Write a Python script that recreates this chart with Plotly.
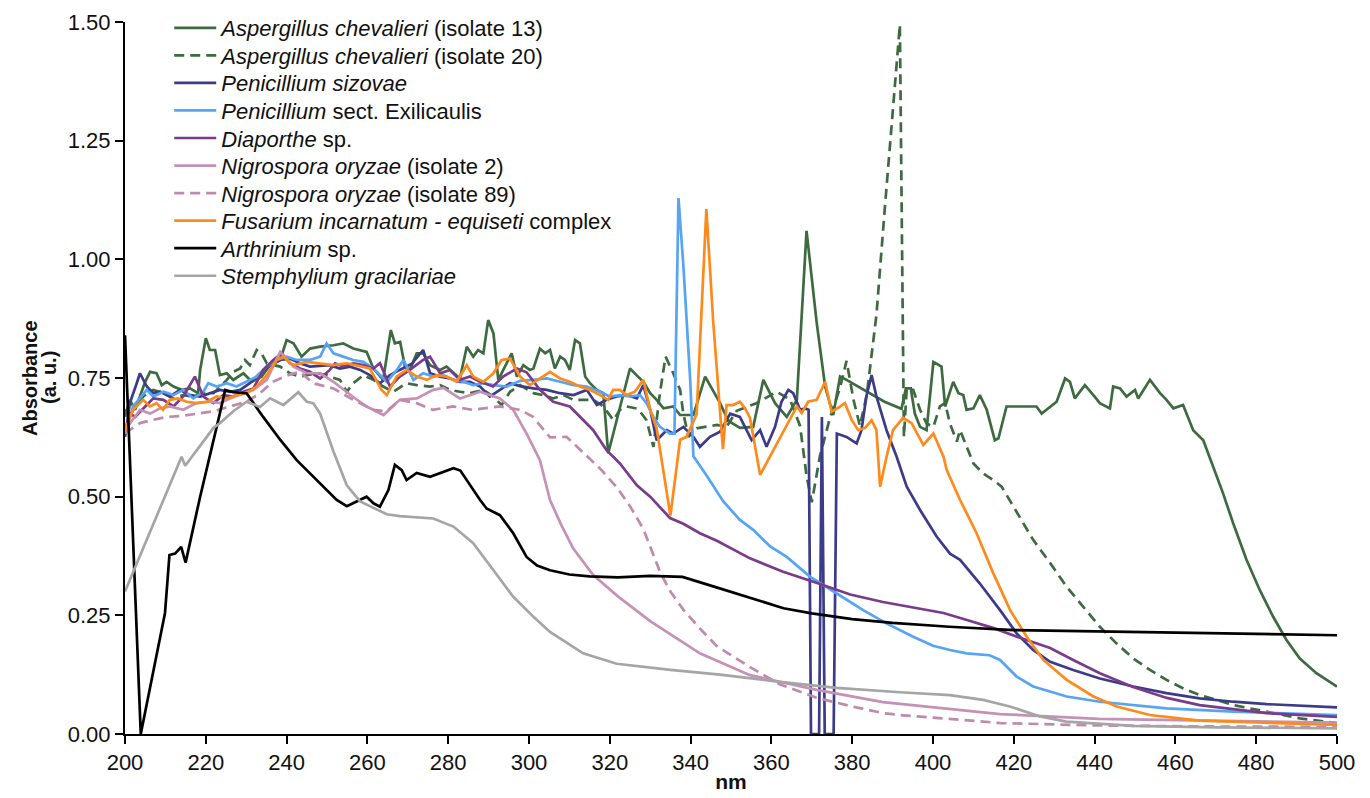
import plotly.graph_objects as go

# ---------------- data ----------------
names = [
    "<i>Aspergillus chevalieri</i> (isolate 13)",
    "<i>Aspergillus chevalieri</i> (isolate 20)",
    "<i>Penicillium sizovae</i>",
    "<i>Penicillium</i> sect. Exilicaulis",
    "<i>Diaporthe</i> sp.",
    "<i>Nigrospora oryzae</i> (isolate 2)",
    "<i>Nigrospora oryzae</i> (isolate 89)",
    "<i>Fusarium incarnatum - equiseti</i> complex",
    "<i>Arthrinium</i> sp.",
    "<i>Stemphylium gracilariae</i>",
]

ac13_x = [200, 201.2, 202.5, 203.7, 205, 206.2, 207.8, 209.1, 210.3, 212, 214, 216.1, 218.1, 218.6, 220, 221, 222.3, 223.5, 225.2, 226.8, 229.3, 231.4, 233.8, 235.9, 238.4, 240, 241.7, 243.7, 245.8, 248.3, 251.6, 254, 256.5, 259.8, 261.5, 263.9, 265.8, 266.8, 268.1, 269.3, 270.5, 272.2, 273.8, 275.5, 278, 279.6, 281.3, 282.9, 284.6, 286.2, 287.4, 288.7, 289.9, 291.2, 292.4, 294, 295.7, 297, 298.6, 300.2, 301.1, 302.7, 304, 305.2, 306.4, 307.7, 308.9, 310.1, 311.4, 312.6, 313.9, 315.1, 316.8, 318.4, 319.6, 321.7, 325, 326.6, 328.3, 330, 331.6, 333.3, 335.7, 337.4, 340.7, 343.6, 345.4, 347.3, 349.3, 352.2, 355.5, 358, 360.9, 363.8, 366.3, 368.7, 371.2, 373.3, 375.3, 377, 378.6, 383.6, 388, 392.2, 393.3, 394.5, 395.5, 396.8, 398.4, 400.1, 402.1, 403, 405, 406.3, 407.5, 408.3, 410, 411.6, 413.3, 415.3, 416.2, 418.2, 425.6, 426.9, 430.6, 432.7, 433.9, 435.1, 437.6, 439.7, 441.3, 443.8, 444.6, 446.3, 447.9, 450, 450.8, 453.7, 456.2, 457.8, 459.5, 461.9, 464.4, 466.9, 469.4, 471.8, 474.3, 477.6, 480.9, 484.2, 487.5, 490.8, 494.9, 500]
ac13_y = [0.668, 0.704, 0.683, 0.711, 0.742, 0.763, 0.76, 0.735, 0.742, 0.732, 0.725, 0.728, 0.718, 0.767, 0.834, 0.809, 0.809, 0.756, 0.76, 0.746, 0.76, 0.742, 0.753, 0.777, 0.788, 0.83, 0.823, 0.795, 0.812, 0.816, 0.819, 0.823, 0.812, 0.805, 0.77, 0.746, 0.851, 0.823, 0.826, 0.774, 0.767, 0.802, 0.802, 0.777, 0.767, 0.774, 0.76, 0.749, 0.816, 0.795, 0.809, 0.802, 0.872, 0.844, 0.746, 0.774, 0.802, 0.753, 0.777, 0.767, 0.77, 0.812, 0.802, 0.809, 0.77, 0.795, 0.788, 0.767, 0.83, 0.823, 0.753, 0.739, 0.725, 0.718, 0.591, 0.661, 0.77, 0.756, 0.742, 0.718, 0.704, 0.686, 0.69, 0.672, 0.672, 0.753, 0.725, 0.697, 0.66, 0.645, 0.647, 0.746, 0.697, 0.668, 0.704, 1.06, 0.867, 0.732, 0.672, 0.753, 0.746, 0.722, 0.70, 0.685, 0.728, 0.728, 0.675, 0.647, 0.64, 0.784, 0.774, 0.69, 0.742, 0.718, 0.714, 0.683, 0.686, 0.714, 0.683, 0.619, 0.623, 0.69, 0.69, 0.675, 0.70, 0.749, 0.742, 0.707, 0.735, 0.714, 0.697, 0.686, 0.732, 0.728, 0.711, 0.725, 0.707, 0.746, 0.718, 0.704, 0.686, 0.693, 0.64, 0.619, 0.563, 0.507, 0.444, 0.367, 0.303, 0.247, 0.198, 0.159, 0.128, 0.10]

ac20_x = [200, 202, 203.7, 205.4, 207, 209.5, 212, 214.4, 216.9, 219.4, 221.9, 223.5, 225.2, 226.8, 228.5, 229.7, 230.9, 232.6, 233.8, 235.1, 238.4, 240.8, 243.3, 245, 247.4, 249.9, 250.7, 253.2, 254.9, 256.5, 259, 261.5, 263.9, 266.4, 267.6, 269.7, 272.2, 275.5, 278, 280.4, 282.9, 285.4, 288.7, 291.2, 293.2, 295.3, 297.8, 301.1, 303.5, 306, 308.5, 311, 315.9, 318.4, 320.9, 322.5, 324.2, 327, 329.1, 330.8, 332.4, 333.8, 335.7, 337.4, 338.2, 339.5, 341.5, 344, 346.5, 348.9, 351.4, 356.3, 361.3, 364.6, 367.1, 368.7, 370, 372, 374.5, 377, 378.6, 380.3, 381.9, 383.6, 386, 388, 390.6, 391.8, 392.8, 393.5, 395.1, 396.8, 398.4, 400.1, 401.7, 403, 404.2, 405.9, 406.7, 408.3, 410, 412.4, 414.9, 417, 419.9, 423.2, 424.8, 429, 433.1, 437.2, 441.3, 445.4, 449.6, 453.7, 457.8, 462, 466.1, 470.2, 474.3, 482.6, 490.8, 500]
ac20_y = [0.64, 0.683, 0.704, 0.718, 0.725, 0.718, 0.707, 0.714, 0.711, 0.718, 0.718, 0.732, 0.746, 0.763, 0.77, 0.788, 0.777, 0.809, 0.802, 0.781, 0.774, 0.76, 0.753, 0.756, 0.76, 0.756, 0.753, 0.746, 0.721, 0.739, 0.756, 0.746, 0.732, 0.721, 0.728, 0.739, 0.735, 0.732, 0.735, 0.725, 0.721, 0.718, 0.725, 0.711, 0.693, 0.721, 0.735, 0.718, 0.714, 0.707, 0.714, 0.704, 0.704, 0.69, 0.661, 0.683, 0.69, 0.685, 0.661, 0.605, 0.718, 0.795, 0.76, 0.725, 0.675, 0.626, 0.644, 0.647, 0.651, 0.647, 0.681, 0.697, 0.721, 0.705, 0.649, 0.544, 0.488, 0.585, 0.666, 0.73, 0.786, 0.705, 0.649, 0.714, 0.883, 1.10, 1.378, 1.494, 0.626, 0.728, 0.725, 0.683, 0.654, 0.647, 0.69, 0.697, 0.654, 0.616, 0.64, 0.605, 0.57, 0.549, 0.535, 0.521, 0.479, 0.43, 0.409, 0.36, 0.31, 0.268, 0.226, 0.191, 0.159, 0.135, 0.114, 0.096, 0.082, 0.072, 0.061, 0.047, 0.033, 0.023]

psiz_x = [200, 201.2, 202.9, 203.7, 205.4, 207, 208.7, 211.1, 213.6, 216.1, 218.6, 221, 223.5, 226, 228.5, 230.9, 233.4, 235.9, 238.4, 240.8, 243.3, 245.8, 248.3, 250.7, 253.2, 255.7, 258.2, 260.6, 263.1, 265.6, 268, 271, 273.8, 275.5, 278, 280.4, 282.9, 285.4, 287.9, 290.3, 292.8, 295.3, 297.8, 301.1, 304.4, 307.7, 311, 314.3, 316.8, 319.2, 321.7, 324.2, 326.7, 328.3, 330, 331.6, 334.1, 335.7, 338.2, 340.7, 342.3, 344.8, 347.3, 349.8, 352.2, 355.1, 357.2, 358.8, 360.9, 362.5, 364.2, 365.4, 367.1, 368.3, 369.2, 369.8, 371.8, 372.5, 373.2, 375.4, 376.2, 378.6, 381.1, 382.3, 383.5, 384.8, 386, 388.5, 391, 393.5, 396.8, 400.9, 404.2, 406.7, 411.6, 416.6, 420.7, 424.8, 429, 434.7, 441.3, 449.6, 457.8, 466, 474.3, 482.6, 500]
psiz_y = [0.626, 0.697, 0.739, 0.76, 0.732, 0.718, 0.721, 0.711, 0.725, 0.714, 0.711, 0.718, 0.725, 0.721, 0.725, 0.739, 0.76, 0.777, 0.788, 0.791, 0.781, 0.774, 0.776, 0.777, 0.77, 0.774, 0.767, 0.756, 0.739, 0.756, 0.767, 0.78, 0.809, 0.76, 0.753, 0.749, 0.742, 0.742, 0.732, 0.711, 0.725, 0.739, 0.733, 0.728, 0.725, 0.718, 0.714, 0.725, 0.693, 0.704, 0.711, 0.714, 0.707, 0.735, 0.683, 0.619, 0.64, 0.633, 0.647, 0.626, 0.605, 0.626, 0.637, 0.675, 0.668, 0.619, 0.64, 0.605, 0.647, 0.70, 0.725, 0.718, 0.683, 0.686, 0.683, 0.0, 0.0, 0.668, 0.0, 0.0, 0.633, 0.626, 0.612, 0.64, 0.711, 0.756, 0.711, 0.64, 0.584, 0.521, 0.472, 0.416, 0.38, 0.367, 0.317, 0.261, 0.212, 0.177, 0.152, 0.135, 0.117, 0.10, 0.086, 0.075, 0.068, 0.063, 0.056]

pexi_x = [200, 202, 205.4, 207, 209.5, 212, 214.4, 216.9, 219.4, 220.6, 222.7, 225.2, 227.6, 230.1, 232.6, 235.1, 237.5, 240, 242.5, 245.8, 248.3, 249.9, 251.6, 254, 256.5, 259, 261.5, 264.8, 267.3, 268.9, 271.4, 273.8, 276.3, 278.8, 281.3, 283.7, 286.2, 288.7, 291.2, 294.5, 297.8, 301.1, 304.4, 307.7, 311, 314.3, 317.6, 320, 322.5, 325, 327.5, 329.1, 330.8, 332.4, 334.9, 336, 337, 338.2, 339.9, 340.7, 344, 348.1, 352.2, 355.5, 359.7, 363.8, 369.6, 376.2, 382.7, 388.5, 395.1, 400, 404.2, 408.3, 414, 416.6, 420.7, 424.8, 433.1, 441.3, 457.8, 474.3, 500]
pexi_y = [0.634, 0.69, 0.725, 0.711, 0.721, 0.714, 0.725, 0.707, 0.721, 0.739, 0.732, 0.739, 0.732, 0.742, 0.753, 0.774, 0.788, 0.795, 0.788, 0.788, 0.795, 0.823, 0.802, 0.795, 0.788, 0.784, 0.77, 0.742, 0.767, 0.788, 0.746, 0.76, 0.753, 0.756, 0.746, 0.742, 0.735, 0.739, 0.735, 0.732, 0.744, 0.746, 0.749, 0.742, 0.735, 0.732, 0.721, 0.711, 0.714, 0.711, 0.714, 0.697, 0.668, 0.647, 0.633, 0.633, 1.129, 0.988, 0.746, 0.585, 0.544, 0.49, 0.451, 0.43, 0.395, 0.373, 0.331, 0.296, 0.261, 0.233, 0.205, 0.186, 0.177, 0.17, 0.166, 0.156, 0.121, 0.10, 0.079, 0.068, 0.054, 0.047, 0.04]

diap_x = [200, 202.5, 205, 207, 209.5, 212, 214.4, 217.3, 219.4, 221.9, 224.3, 226.8, 229.3, 231.8, 234.2, 236.7, 238.8, 240.8, 243.3, 245.8, 248.3, 250.7, 252, 254, 256.5, 259, 261.5, 263.1, 265.6, 268, 270.5, 273.8, 275.5, 278, 280.4, 282.9, 285.4, 287.9, 291.1, 293.6, 297, 299.4, 302.7, 306, 310.1, 312.6, 315.9, 319.2, 322.5, 326.7, 330, 334.9, 338.2, 342.3, 346.5, 354.7, 362.9, 371.3, 379.5, 387.6, 391.8, 396, 402.6, 408.4, 415, 420.8, 429, 434.7, 441.3, 449.5, 457.9, 466, 474.3, 482.6, 500]
diap_y = [0.683, 0.668, 0.69, 0.707, 0.704, 0.69, 0.711, 0.753, 0.711, 0.697, 0.714, 0.711, 0.721, 0.728, 0.767, 0.788, 0.802, 0.781, 0.77, 0.763, 0.749, 0.767, 0.781, 0.774, 0.781, 0.777, 0.77, 0.781, 0.732, 0.753, 0.767, 0.788, 0.795, 0.76, 0.767, 0.746, 0.753, 0.742, 0.732, 0.753, 0.77, 0.762, 0.725, 0.70, 0.69, 0.668, 0.64, 0.598, 0.57, 0.524, 0.50, 0.455, 0.443, 0.423, 0.407, 0.37, 0.342, 0.318, 0.294, 0.278, 0.272, 0.265, 0.255, 0.24, 0.223, 0.205, 0.181, 0.156, 0.128, 0.099, 0.076, 0.061, 0.053, 0.044, 0.036]

nig2_x = [200, 203.7, 206.2, 208.7, 211.1, 214.4, 217.7, 221, 223.5, 226, 228.5, 231.8, 235.1, 238.4, 241.7, 245, 248.3, 251.6, 256.5, 259.8, 264, 268, 272.2, 276.3, 278.8, 282.9, 287.9, 292.8, 296.1, 299.4, 302.7, 305.2, 308, 311, 315.9, 322, 330, 342.3, 354.7, 371.2, 387.6, 404, 416.6, 441, 466, 500]
nig2_y = [0.64, 0.683, 0.675, 0.686, 0.69, 0.683, 0.697, 0.70, 0.697, 0.707, 0.715, 0.725, 0.746, 0.805, 0.774, 0.76, 0.76, 0.742, 0.71, 0.69, 0.672, 0.704, 0.707, 0.725, 0.729, 0.707, 0.721, 0.707, 0.683, 0.633, 0.577, 0.493, 0.44, 0.39, 0.335, 0.29, 0.238, 0.170, 0.124, 0.093, 0.067, 0.053, 0.042, 0.032, 0.028, 0.024]

nig89_x = [200, 203.7, 206, 210.3, 214, 218, 222, 226, 230, 233, 236.6, 240, 243.3, 246.6, 251.6, 256.5, 261.4, 264.8, 268, 272.2, 276.2, 281.2, 286, 292.8, 297.8, 301, 305.2, 309.3, 313.4, 317.5, 321.7, 325, 328.3, 332.4, 335, 338.2, 342, 346.5, 354.7, 362, 371.3, 380, 387.6, 391.8, 404, 416.6, 441, 466, 500]
nig89_y = [0.634, 0.655, 0.66, 0.668, 0.67, 0.675, 0.68, 0.69, 0.70, 0.715, 0.742, 0.755, 0.763, 0.739, 0.728, 0.704, 0.683, 0.68, 0.704, 0.697, 0.683, 0.69, 0.683, 0.69, 0.683, 0.668, 0.625, 0.626, 0.593, 0.56, 0.52, 0.48, 0.432, 0.342, 0.30, 0.262, 0.225, 0.185, 0.141, 0.105, 0.076, 0.058, 0.044, 0.040, 0.032, 0.023, 0.018, 0.016, 0.015]

fus_x = [200, 202, 204.5, 206.2, 207.8, 209.4, 211.1, 213.1, 215.3, 217.7, 220.2, 222.7, 225.2, 227.6, 230.1, 232.6, 235.1, 237.5, 239.2, 241.7, 245, 248.3, 251.5, 254.9, 258.2, 260.6, 263.5, 264.8, 267.2, 269.7, 272.2, 274.7, 277.2, 279.6, 282.1, 284.6, 286.2, 288.7, 291.2, 293.2, 295.3, 297.8, 300.2, 302.7, 305.2, 307.7, 310.1, 312.6, 315.1, 317.6, 319.6, 320.8, 322.5, 324.2, 326.2, 328.3, 330, 331.6, 335, 337.4, 339, 341.5, 343.9, 345.6, 347.3, 348, 348.9, 350.5, 352.2, 353.5, 354.7, 357.2, 366.3, 367.5, 369.1, 371.2, 373.3, 374.9, 376.5, 378.2, 379.9, 381.5, 383.2, 384.8, 386, 386.9, 388.5, 390.1, 392.6, 394.7, 397.6, 400.1, 402.6, 403.4, 406.7, 410.8, 414.9, 419.1, 423.2, 427.3, 433.1, 439.7, 445.5, 453.7, 466, 482.6, 500]
fus_y = [0.64, 0.683, 0.704, 0.69, 0.697, 0.683, 0.704, 0.707, 0.70, 0.697, 0.70, 0.711, 0.707, 0.714, 0.718, 0.732, 0.756, 0.788, 0.795, 0.777, 0.784, 0.78, 0.777, 0.781, 0.774, 0.77, 0.725, 0.714, 0.753, 0.767, 0.753, 0.746, 0.756, 0.753, 0.742, 0.777, 0.753, 0.742, 0.76, 0.788, 0.791, 0.753, 0.735, 0.749, 0.763, 0.749, 0.742, 0.732, 0.725, 0.714, 0.704, 0.725, 0.725, 0.714, 0.721, 0.746, 0.683, 0.644, 0.46, 0.62, 0.626, 0.674, 1.106, 0.868, 0.666, 0.60, 0.693, 0.693, 0.70, 0.686, 0.666, 0.546, 0.69, 0.676, 0.70, 0.704, 0.742, 0.679, 0.687, 0.697, 0.661, 0.64, 0.645, 0.661, 0.64, 0.521, 0.584, 0.64, 0.666, 0.655, 0.609, 0.633, 0.584, 0.556, 0.493, 0.423, 0.339, 0.261, 0.205, 0.156, 0.114, 0.079, 0.058, 0.04, 0.028, 0.023, 0.019]

arth_x = [200, 203.9, 209.9, 211, 212.4, 213.9, 215, 218.6, 223.5, 224.8, 226.8, 230.1, 234.2, 238.4, 242.5, 248.3, 252.4, 254.9, 258.2, 259.8, 261.5, 263.1, 265.2, 266.8, 268.5, 269.7, 272.2, 275.5, 281.3, 283, 287.9, 289.5, 292.8, 296.1, 299.4, 302, 305.2, 310, 315, 322, 330, 338, 346, 355, 363, 370, 380, 390, 404, 420, 440, 460, 480, 500]
arth_y = [0.84, 0.0, 0.255, 0.377, 0.38, 0.394, 0.361, 0.50, 0.676, 0.725, 0.72, 0.718, 0.668, 0.62, 0.577, 0.529, 0.493, 0.48, 0.493, 0.5, 0.486, 0.479, 0.514, 0.567, 0.556, 0.535, 0.55, 0.542, 0.56, 0.555, 0.493, 0.475, 0.461, 0.423, 0.373, 0.355, 0.345, 0.336, 0.332, 0.33, 0.333, 0.331, 0.31, 0.286, 0.265, 0.254, 0.242, 0.234, 0.226, 0.219, 0.216, 0.214, 0.211, 0.208]

stem_x = [200, 214, 214.9, 218.6, 221.9, 223.5, 226.8, 230.1, 233.4, 235.9, 239.2, 242.9, 245, 246.6, 248.3, 251.6, 254.9, 258.2, 264.8, 268, 276.3, 281.3, 286.2, 291.2, 296.1, 301.1, 305.2, 313.4, 321.7, 335, 347.3, 362, 376.2, 391.8, 404.2, 412.4, 419, 426.5, 433, 449.6, 470, 500]
stem_y = [0.30, 0.584, 0.565, 0.607, 0.645, 0.655, 0.68, 0.70, 0.689, 0.707, 0.693, 0.72, 0.70, 0.697, 0.675, 0.595, 0.524, 0.49, 0.463, 0.459, 0.454, 0.437, 0.402, 0.345, 0.289, 0.247, 0.215, 0.17, 0.148, 0.135, 0.125, 0.11, 0.097, 0.088, 0.082, 0.072, 0.058, 0.037, 0.026, 0.017, 0.014, 0.012]

series_x = [ac13_x, ac20_x, psiz_x, pexi_x, diap_x, nig2_x, nig89_x, fus_x, arth_x, stem_x]
series_y = [ac13_y, ac20_y, psiz_y, pexi_y, diap_y, nig2_y, nig89_y, fus_y, arth_y, stem_y]

colors = ["#3d6b3f", "#3d6b3f", "#3b3b8a", "#56a5f5", "#7a3b8a",
          "#c591b6", "#c08aab", "#ff8a1c", "#000000", "#a5a5a5"]
dashes = ["solid", "10px,6px", "solid", "solid", "solid",
          "solid", "10px,6px", "solid", "solid", "solid"]

x_ticks = list(range(200, 501, 20))
y_ticks = [0.0, 0.25, 0.5, 0.75, 1.0, 1.25, 1.5]

# ---------------- layout geometry ----------------
# the page body adds an 8 px offset, so the figure is 8 px smaller on each side
W, H = 1362, 790
ML, MR, MT, MB = 117, 33, 14, 64
PW = W - ML - MR
PH = H - MT - MB
LEG_TOP_PX = 28 - 8                   # centre of first legend row (figure px)
LEG_STEP = 27.55                      # row spacing in px

FONT = "Liberation Sans, Arial, Helvetica, sans-serif"

fig = go.Figure()
layout_legends = {}
for i in range(len(names)):
    key = "legend" if i == 0 else "legend%d" % (i + 1)
    fig.add_trace(go.Scatter(
        x=series_x[i], y=series_y[i], mode="lines", name=names[i],
        legend=key,
        line=dict(color=colors[i], width=2.7, dash=dashes[i]),
    ))
    yc_px = LEG_TOP_PX + i * LEG_STEP
    y_frac = 1 - (yc_px - MT) / PH
    layout_legends[key] = dict(
        x=0.0365, y=y_frac, xanchor="left", yanchor="middle",
        bgcolor="rgba(0,0,0,0)", borderwidth=0, itemwidth=42,
        font=dict(family=FONT, size=22, color="#111111"),
    )

fig.update_layout(
    width=W, height=H,
    paper_bgcolor="white", plot_bgcolor="white",
    margin=dict(l=ML, r=MR, t=MT, b=MB, autoexpand=False),
    font=dict(family=FONT, size=21, color="#111111"),
    showlegend=True,
    xaxis=dict(
        range=[200, 500], tickmode="array", tickvals=x_ticks,
        automargin=False,
        showline=True, linecolor="black", linewidth=2,
        ticks="outside", ticklen=8, tickwidth=2, tickcolor="black",
        showgrid=False, zeroline=False,
        tickfont=dict(family=FONT, size=22, color="#111111"),
        title=dict(text="<b>nm</b>", font=dict(family=FONT, size=21), standoff=0),
    ),
    yaxis=dict(
        range=[0, 1.5], tickmode="array", tickvals=y_ticks, tickformat=".2f",
        automargin=False,
        showline=True, linecolor="black", linewidth=2,
        ticks="outside", ticklen=8, tickwidth=2, tickcolor="black",
        showgrid=False, zeroline=False,
        tickfont=dict(family=FONT, size=22, color="#111111"),
    ),
    annotations=[
        dict(text="<b>Absorbance</b>", xref="paper", yref="paper",
             x=(30 - 8 - ML) / PW, y=0.5, textangle=-90,
             showarrow=False, xanchor="center", yanchor="middle",
             font=dict(family=FONT, size=20, color="#111111")),
        dict(text="<b>(a. u.)</b>", xref="paper", yref="paper",
             x=(49 - 8 - ML) / PW, y=0.5, textangle=-90,
             showarrow=False, xanchor="center", yanchor="middle",
             font=dict(family=FONT, size=20, color="#111111")),
    ],
    **layout_legends,
)

fig.write_html("out.html")
